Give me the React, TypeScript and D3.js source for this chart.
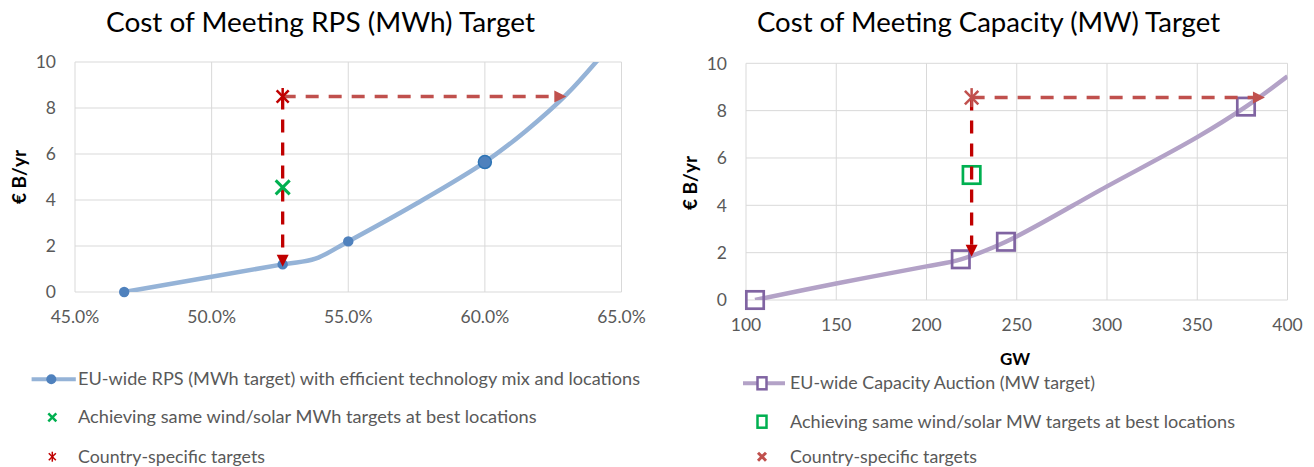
import React from "react";
import * as d3 from "d3";

// ---- Left chart data (RPS, MWh target) ----
const rpsCurveX = [46.8, 52.6, 53.8, 55, 57.5, 60, 61.5, 63.0, 64.5];
const rpsCurveY = [0, 1.2, 1.45, 2.2, 3.85, 5.65, 7.0, 8.6, 10.6];
const rpsMarkerX = [46.8, 52.6, 55, 60];
const rpsMarkerY = [0, 1.2, 2.2, 5.65];
const rpsBestX = [52.6];
const rpsBestY = [4.55];
const rpsCountryX = [52.6];
const rpsCountryY = [8.5];
const rpsArrowDownY = [1.1];
const rpsArrowRightX = [62.98];
const rpsXTicks = [45, 50, 55, 60, 65];
const yTicks = [0, 2, 4, 6, 8, 10];

// ---- Right chart data (Capacity, MW target) ----
const capCurveX = [105, 150, 200, 219, 244, 300, 350, 377, 400];
const capCurveY = [0, 0.7, 1.42, 1.72, 2.46, 4.8, 6.88, 8.17, 9.45];
const capMarkerX = [105, 219, 244, 377];
const capMarkerY = [0, 1.72, 2.46, 8.17];
const capBestX = [225];
const capBestY = [5.28];
const capCountryX = [225];
const capCountryY = [8.55];
const capArrowDownY = [1.83];
const capArrowRightX = [387.5];
const capXTicks = [100, 150, 200, 250, 300, 350, 400];

const titles = ["Cost of Meeting RPS (MWh) Target", "Cost of Meeting Capacity (MW) Target"];
const leftLegend = [
  "EU-wide RPS (MWh target) with efficient technology mix and locations",
  "Achieving same wind/solar MWh targets at best locations",
  "Country-specific targets",
];
const rightLegend = [
  "EU-wide Capacity Auction (MW target)",
  "Achieving same wind/solar MW targets at best locations",
  "Country-specific targets",
];

const FONT = "Lato, 'Open Sans', sans-serif";
const GRID = "#D9D9D9";
const TICK = "#595959";

function Star({ x, y, r, color, sw }: { x: number; y: number; r: number; color: string; sw: number }) {
  const d = r * 0.7071;
  return (
    <g stroke={color} strokeWidth={sw} strokeLinecap="butt">
      <line x1={x - d} y1={y - d} x2={x + d} y2={y + d} />
      <line x1={x - d} y1={y + d} x2={x + d} y2={y - d} />
      <line x1={x} y1={y - r} x2={x} y2={y + r} />
    </g>
  );
}

function Cross({ x, y, r, color, sw }: { x: number; y: number; r: number; color: string; sw: number }) {
  return (
    <g stroke={color} strokeWidth={sw}>
      <line x1={x - r} y1={y - r} x2={x + r} y2={y + r} />
      <line x1={x - r} y1={y + r} x2={x + r} y2={y - r} />
    </g>
  );
}

export default function App() {
  const lx = d3.scaleLinear().domain([45, 65]).range([75, 621.5]);
  const ly = d3.scaleLinear().domain([0, 10]).range([292, 62]);
  const rx = d3.scaleLinear().domain([100, 400]).range([746, 1287.5]);
  const ry = d3.scaleLinear().domain([0, 10]).range([300, 63.3]);

  const lLine = d3
    .line<number>()
    .x((_, i) => lx(rpsCurveX[i]))
    .y((v) => ly(v))
    .curve(d3.curveCatmullRom.alpha(0.5))(rpsCurveY) as string;
  const rLine = d3
    .line<number>()
    .x((_, i) => rx(capCurveX[i]))
    .y((v) => ry(v))
    .curve(d3.curveCatmullRom.alpha(0.5))(capCurveY) as string;

  const ah = 12;
  const aw = 6;

  const lStarX = lx(rpsCountryX[0]);
  const lStarY = ly(rpsCountryY[0]);
  const lDownTip = ly(rpsArrowDownY[0]);
  const lRightTip = lx(rpsArrowRightX[0]);
  const rStarX = rx(capCountryX[0]);
  const rStarY = ry(capCountryY[0]);
  const rDownTip = ry(capArrowDownY[0]);
  const rRightTip = rx(capArrowRightX[0]);

  return (
    <div style={{ position: "absolute", left: 0, top: 0 }}>
      <svg width={1314} height={467} style={{ display: "block", background: "#fff" }} fontFamily={FONT}>
        <defs>
          <clipPath id="clipL">
            <rect x={lx(45)} y={ly(10)} width={lx(65) - lx(45)} height={ly(0) - ly(10)} />
          </clipPath>
          <clipPath id="clipR">
            <rect x={rx(100)} y={ry(10)} width={rx(400) - rx(100)} height={ry(0) - ry(10)} />
          </clipPath>
        </defs>

        <text x={106} y={32} fontSize={26} fill="#000" textLength={429} lengthAdjust="spacingAndGlyphs">
          {titles[0]}
        </text>
        <text x={757} y={32} fontSize={26} fill="#000" textLength={463} lengthAdjust="spacingAndGlyphs">
          {titles[1]}
        </text>

        {/* ===== LEFT CHART ===== */}
        <g>
          {rpsXTicks.map((t) => (
            <line key={"lvx" + t} x1={lx(t)} x2={lx(t)} y1={ly(0)} y2={ly(10)} stroke={GRID} strokeWidth={1} />
          ))}
          {yTicks.map((t) => (
            <line key={"lhy" + t} x1={lx(45)} x2={lx(65)} y1={ly(t)} y2={ly(t)} stroke={GRID} strokeWidth={1} />
          ))}
          {yTicks.map((t) => (
            <text key={"lyt" + t} x={lx(45) - 19} y={ly(t)} dy="0.36em" textAnchor="end" fontSize={17.5} fill={TICK}>
              {t}
            </text>
          ))}
          {rpsXTicks.map((t) => (
            <text key={"lxt" + t} x={lx(t)} y={ly(0) + 31} textAnchor="middle" fontSize={17.5} fill={TICK}>
              {d3.format(".1f")(t) + "%"}
            </text>
          ))}
          <text transform={`translate(26,177) rotate(-90)`} textAnchor="middle" fontSize={19} fontWeight="bold" fill="#000">
            € B/yr
          </text>

          <path d={lLine} fill="none" stroke="#95B3D7" strokeWidth={4.5} clipPath="url(#clipL)" />
          {rpsMarkerX.map((v, i) => (
            <circle
              key={"lm" + i}
              cx={lx(v)}
              cy={ly(rpsMarkerY[i])}
              r={i === 3 ? 6.5 : 5.2}
              fill="#4F81BD"
              stroke={i === 3 ? "#2E75B6" : "none"}
              strokeWidth={1.5}
            />
          ))}

          <line x1={lStarX} y1={lStarY} x2={lRightTip - ah} y2={lStarY} stroke="#C0504D" strokeWidth={3.5} strokeDasharray="13 10" />
          <path d={`M${lRightTip},${lStarY} L${lRightTip - ah},${lStarY - aw} L${lRightTip - ah},${lStarY + aw} Z`} fill="#C0504D" />
          <line x1={lStarX} y1={lStarY} x2={lStarX} y2={lDownTip - ah} stroke="#C00000" strokeWidth={3.3} strokeDasharray="13 10" />
          <path d={`M${lStarX},${lDownTip} L${lStarX - aw},${lDownTip - ah} L${lStarX + aw},${lDownTip - ah} Z`} fill="#C00000" />
          {rpsBestX.map((v, i) => (
            <Cross key={"lb" + i} x={lx(v)} y={ly(rpsBestY[i])} r={7} color="#00B050" sw={3} />
          ))}
          {rpsCountryX.map((v, i) => (
            <Star key={"lc" + i} x={lx(v)} y={ly(rpsCountryY[i])} r={8.5} color="#C00000" sw={2.5} />
          ))}

          <line x1={31.6} x2={75.8} y1={379.3} y2={379.3} stroke="#95B3D7" strokeWidth={4} />
          <circle cx={51.3} cy={379.3} r={5} fill="#4F81BD" />
          <text x={78} y={379.3} dy="0.36em" fontSize={16.5} fill={TICK} textLength={562} lengthAdjust="spacingAndGlyphs">
            {leftLegend[0]}
          </text>
          <Cross x={52.3} y={417.3} r={4} color="#00B050" sw={2.5} />
          <text x={78} y={417.3} dy="0.36em" fontSize={16.5} fill={TICK} textLength={458.6} lengthAdjust="spacingAndGlyphs">
            {leftLegend[1]}
          </text>
          <Star x={52.3} y={456.7} r={5} color="#C00000" sw={1.5} />
          <text x={78} y={456.7} dy="0.36em" fontSize={16.5} fill={TICK} textLength={187} lengthAdjust="spacingAndGlyphs">
            {leftLegend[2]}
          </text>
        </g>

        {/* ===== RIGHT CHART ===== */}
        <g>
          {capXTicks.map((t) => (
            <line key={"rvx" + t} x1={rx(t)} x2={rx(t)} y1={ry(0)} y2={ry(10)} stroke={GRID} strokeWidth={1} />
          ))}
          {yTicks.map((t) => (
            <line key={"rhy" + t} x1={rx(100)} x2={rx(400)} y1={ry(t)} y2={ry(t)} stroke={GRID} strokeWidth={1} />
          ))}
          {yTicks.map((t) => (
            <text key={"ryt" + t} x={rx(100) - 19} y={ry(t)} dy="0.36em" textAnchor="end" fontSize={17.5} fill={TICK}>
              {t}
            </text>
          ))}
          {capXTicks.map((t) => (
            <text key={"rxt" + t} x={rx(t)} y={ry(0) + 31} textAnchor="middle" fontSize={17.5} fill={TICK}>
              {t}
            </text>
          ))}
          <text transform={`translate(697,183) rotate(-90)`} textAnchor="middle" fontSize={19} fontWeight="bold" fill="#000">
            € B/yr
          </text>
          <text x={1015} y={359} dy="0.36em" textAnchor="middle" fontSize={17} fontWeight="bold" fill="#000">
            GW
          </text>

          <path d={rLine} fill="none" stroke="#B3A2C7" strokeWidth={4.5} clipPath="url(#clipR)" />
          {capMarkerX.map((v, i) => (
            <rect
              key={"rm" + i}
              x={rx(v) - 8.7}
              y={ry(capMarkerY[i]) - 8.7}
              width={17.4}
              height={17.4}
              fill="none"
              stroke="#8064A2"
              strokeWidth={2.7}
            />
          ))}
          {capBestX.map((v, i) => (
            <rect
              key={"rb" + i}
              x={rx(v) - 8.7}
              y={ry(capBestY[i]) - 8.7}
              width={17.4}
              height={17.4}
              fill="none"
              stroke="#00B050"
              strokeWidth={2.7}
            />
          ))}

          <line x1={rStarX} y1={rStarY} x2={rRightTip - ah} y2={rStarY} stroke="#C0504D" strokeWidth={3.5} strokeDasharray="13 10" />
          <path d={`M${rRightTip},${rStarY} L${rRightTip - ah},${rStarY - aw} L${rRightTip - ah},${rStarY + aw} Z`} fill="#C0504D" />
          <line x1={rStarX} y1={rStarY} x2={rStarX} y2={rDownTip - ah} stroke="#C00000" strokeWidth={3.3} strokeDasharray="13 10" />
          <path d={`M${rStarX},${rDownTip} L${rStarX - aw},${rDownTip - ah} L${rStarX + aw},${rDownTip - ah} Z`} fill="#C00000" />
          {capCountryX.map((v, i) => (
            <Star key={"rc" + i} x={rx(v)} y={ry(capCountryY[i])} r={9.5} color="#C0504D" sw={2.5} />
          ))}

          <line x1={743} x2={785} y1={383.3} y2={383.3} stroke="#B3A2C7" strokeWidth={4} />
          <rect x={757.5} y={377.3} width={9} height={12} fill="#fff" stroke="#8064A2" strokeWidth={2.5} />
          <text x={790} y={383.3} dy="0.36em" fontSize={16.5} fill={TICK} textLength={305} lengthAdjust="spacingAndGlyphs">
            {rightLegend[0]}
          </text>
          <rect x={757.5} y={415.7} width={9} height={12} fill="none" stroke="#00B050" strokeWidth={2.5} />
          <text x={790} y={421.7} dy="0.36em" fontSize={16.5} fill={TICK} textLength={445} lengthAdjust="spacingAndGlyphs">
            {rightLegend[1]}
          </text>
          <Cross x={762} y={456.7} r={4} color="#C0504D" sw={3} />
          <text x={790} y={456.7} dy="0.36em" fontSize={16.5} fill={TICK} textLength={187} lengthAdjust="spacingAndGlyphs">
            {rightLegend[2]}
          </text>
        </g>
      </svg>
    </div>
  );
}
